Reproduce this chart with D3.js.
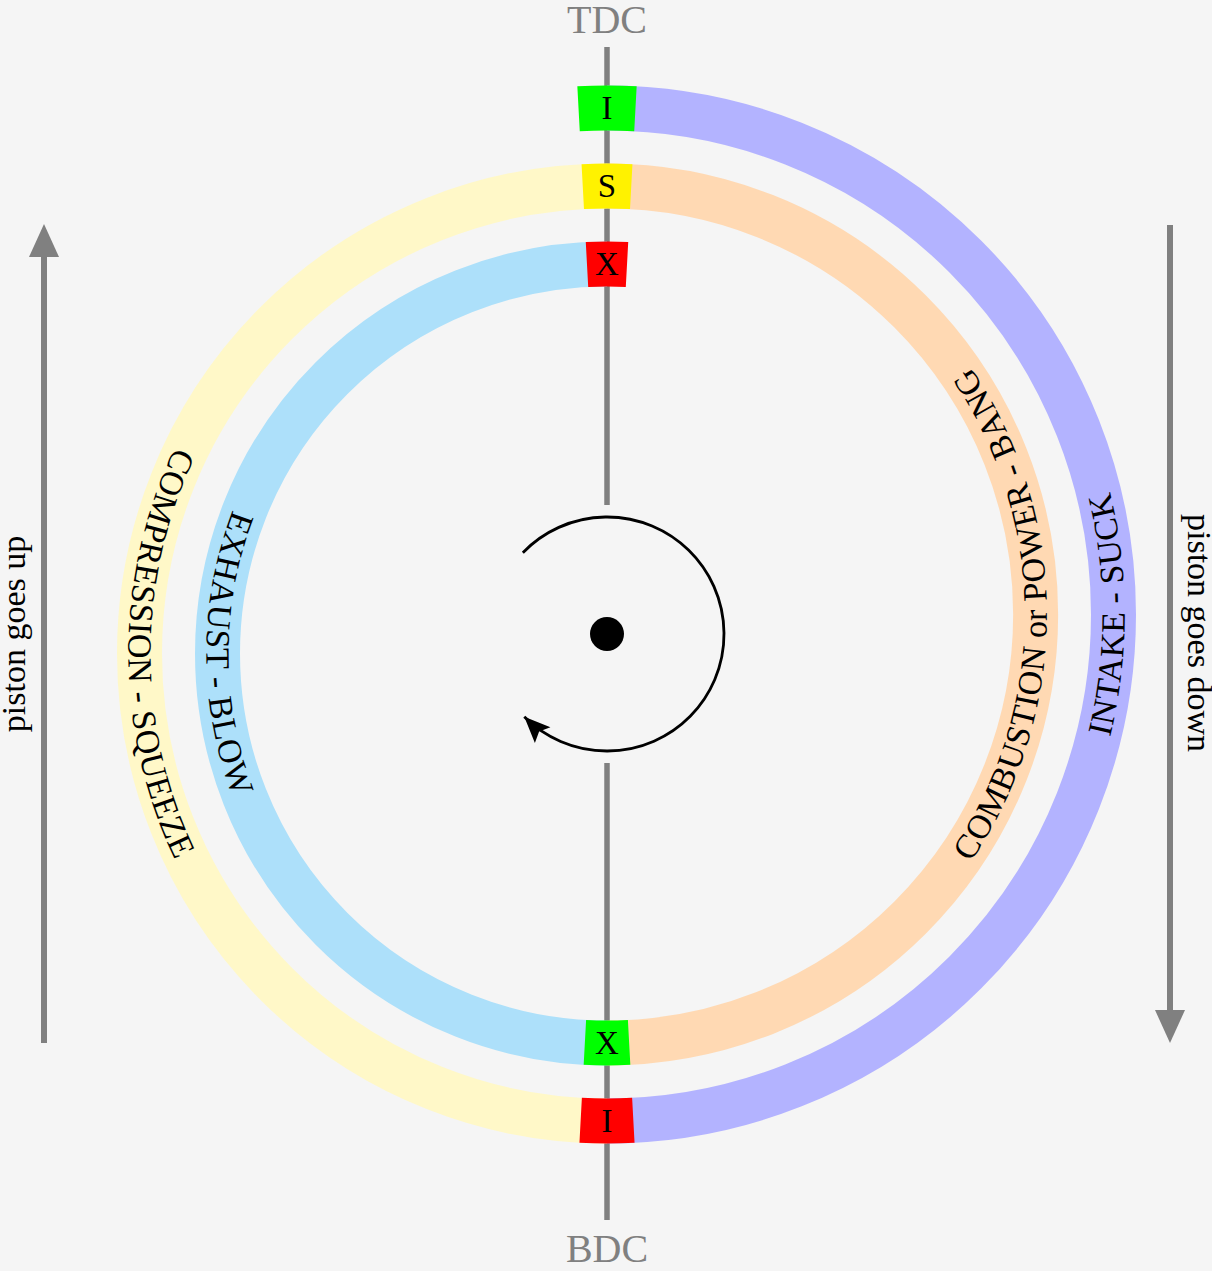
<html>
<head>
<meta charset="utf-8">
<title>Four-stroke cycle</title>
<style>
  body { margin: 0; background: #f5f5f5; }
  svg text { font-family: "Liberation Serif", "DejaVu Serif", serif; }
</style>
</head>
<body>
<script src="https://d3js.org/d3.v7.min.js"></script>
<script>
 // the four strokes, in crank degrees (0 = TDC, 720 = full cycle)
 var strokeNames  = ["INTAKE - SUCK", "COMPRESSION - SQUEEZE", "COMBUSTION or POWER - BANG", "EXHAUST - BLOW"];
 var strokeStart  = [0, 180, 360, 540];
 var strokeEnd    = [180, 360, 540, 720];
 var strokeColors = ["#b3b3ff", "#fff8c8", "#ffd9b3", "#ade0fa"];

 // valve / spark events
 var eventAngles = [0, 180, 360, 540, 720];
 var eventLabels = ["I", "I", "S", "X", "X"];
 var eventColors = ["#00ff00", "#ff0000", "#fff200", "#00ff00", "#ff0000"];

 var deadCentres = ["TDC", "BDC"];
 var pistonTexts = ["piston goes up", "piston goes down"];

 var W = 1212, H = 1271;
 var cx = 607, cy = 634;
 var ringWidth = 45;
 var grey = "#808080";

 var svg = d3.select("body").append("svg")
     .attr("width", W).attr("height", H)
     .style("background", "#f5f5f5");

 // crank angle -> distance of the ring from the centre (spiral inwards)
 var radius = d3.scaleLinear().domain([0, 720]).range([526, 370]);
 // crank angle -> screen angle (radians, 0 = pointing right)
 var toRad = function(a){ return (a - 90) * Math.PI / 180; };

 function pointAt(a, r) {
     if (r === undefined) r = radius(a);
     var t = toRad(a);
     return [cx + r * Math.cos(t), cy + r * Math.sin(t)];
 }

 // each stroke is a half circle joining its two crossing points
 var strokes = strokeNames.map(function(n, i){
     var p0 = pointAt(strokeStart[i]), p1 = pointAt(strokeEnd[i]);
     var c = [(p0[0] + p1[0]) / 2, (p0[1] + p1[1]) / 2];
     var R = (radius(strokeStart[i]) + radius(strokeEnd[i])) / 2;
     return { name: n, color: strokeColors[i], c: c, R: R,
              a0: toRad(strokeStart[i]), a1: toRad(strokeEnd[i]), p0: p0, p1: p1 };
 });

 var defs = svg.append("defs");
 defs.append("marker").attr("id", "greyHead")
     .attr("markerUnits", "userSpaceOnUse")
     .attr("markerWidth", 40).attr("markerHeight", 40)
     .attr("viewBox", "0 -20 40 40")
     .attr("refX", 0).attr("refY", 0).attr("orient", "auto")
   .append("path").attr("d", "M0,-15L33,0L0,15Z").attr("fill", grey);
 defs.append("marker").attr("id", "blackHead")
     .attr("markerUnits", "userSpaceOnUse")
     .attr("markerWidth", 34).attr("markerHeight", 34)
     .attr("viewBox", "-30 -15 34 30")
     .attr("refX", 0).attr("refY", 0).attr("orient", "auto")
   .append("path").attr("d", "M-26,-11L0,0L-26,11L-21,0Z").attr("fill", "black");

 // TDC-BDC line
 svg.append("line").attr("x1", cx).attr("x2", cx).attr("y1", 47).attr("y2", 505)
    .attr("stroke", grey).attr("stroke-width", 5.5);
 svg.append("line").attr("x1", cx).attr("x2", cx).attr("y1", 763).attr("y2", 1220)
    .attr("stroke", grey).attr("stroke-width", 5.5);

 svg.selectAll("text.dc").data(deadCentres).enter().append("text")
    .attr("class", "dc")
    .attr("x", cx)
    .attr("y", function(d, i){ return i == 0 ? 33 : 1262; })
    .attr("text-anchor", "middle")
    .attr("font-size", 40)
    .attr("fill", grey)
    .text(function(d){ return d; });

 // rings
 svg.selectAll("path.stroke").data(strokes).enter().append("path")
    .attr("class", "stroke")
    .attr("d", function(d){
        var p = d3.path();
        p.moveTo(d.p0[0], d.p0[1]);
        p.arc(d.c[0], d.c[1], d.R, d.a0, d.a1, false);
        return p.toString();
    })
    .attr("fill", "none")
    .attr("stroke", function(d){ return d.color; })
    .attr("stroke-width", ringWidth);

 // reversed paths (anticlockwise) for the labels, so letters face the centre
 svg.selectAll("path.tp").data(strokes).enter().append("path")
    .attr("class", "tp")
    .attr("id", function(d, i){ return "tp" + i; })
    .attr("d", function(d){
        var p = d3.path();
        p.moveTo(d.p1[0], d.p1[1]);
        p.arc(d.c[0], d.c[1], d.R, d.a1, d.a0, true);
        return p.toString();
    })
    .attr("fill", "none").attr("stroke", "none");

 svg.selectAll("text.stroke-label").data(strokes).enter().append("text")
    .attr("class", "stroke-label")
    .attr("font-size", 34)
    .attr("dy", "0.33em")
   .append("textPath")
    .attr("href", function(d, i){ return "#tp" + i; })
    .attr("startOffset", "50%")
    .attr("text-anchor", "middle")
    .text(function(d){ return d.name; });

 // event markers
 var half = 3.1;
 svg.selectAll("path.event").data(eventAngles).enter().append("path")
    .attr("class", "event")
    .attr("d", function(a){
        var r = radius(a), p = d3.path(), s = pointAt(a - half, r);
        p.moveTo(s[0], s[1]);
        p.arc(cx, cy, r, toRad(a - half), toRad(a + half), false);
        return p.toString();
    })
    .attr("fill", "none")
    .attr("stroke", function(a, i){ return eventColors[i]; })
    .attr("stroke-width", ringWidth);

 svg.selectAll("text.event").data(eventAngles).enter().append("text")
    .attr("class", "event")
    .attr("x", function(a){ return pointAt(a)[0]; })
    .attr("y", function(a){ return pointAt(a)[1]; })
    .attr("dy", "0.34em")
    .attr("text-anchor", "middle")
    .attr("font-size", 33)
    .text(function(a, i){ return eventLabels[i]; });

 // crank rotation arrow
 var crank = d3.path();
 var rc = 117;
 crank.moveTo(cx + rc * Math.cos(toRad(-46)), cy + rc * Math.sin(toRad(-46)));
 crank.arc(cx, cy, rc, toRad(-46), toRad(225), false);
 svg.append("path").attr("d", crank.toString())
    .attr("fill", "none").attr("stroke", "black").attr("stroke-width", 2.8)
    .attr("marker-end", "url(#blackHead)");
 svg.append("circle").attr("cx", cx).attr("cy", cy).attr("r", 17).attr("fill", "black");

 // piston direction arrows
 svg.append("line").attr("x1", 44).attr("x2", 44).attr("y1", 1043).attr("y2", 257)
    .attr("stroke", grey).attr("stroke-width", 6).attr("marker-end", "url(#greyHead)");
 svg.append("line").attr("x1", 1170).attr("x2", 1170).attr("y1", 225).attr("y2", 1010)
    .attr("stroke", grey).attr("stroke-width", 6).attr("marker-end", "url(#greyHead)");

 svg.selectAll("text.piston").data(pistonTexts).enter().append("text")
    .attr("class", "piston")
    .attr("transform", function(d, i){
        return i == 0 ? "translate(25,634) rotate(-90)" : "translate(1188,633) rotate(90)";
    })
    .attr("text-anchor", "middle")
    .attr("font-size", 34)
    .text(function(d){ return d; });
</script>
</body>
</html>
